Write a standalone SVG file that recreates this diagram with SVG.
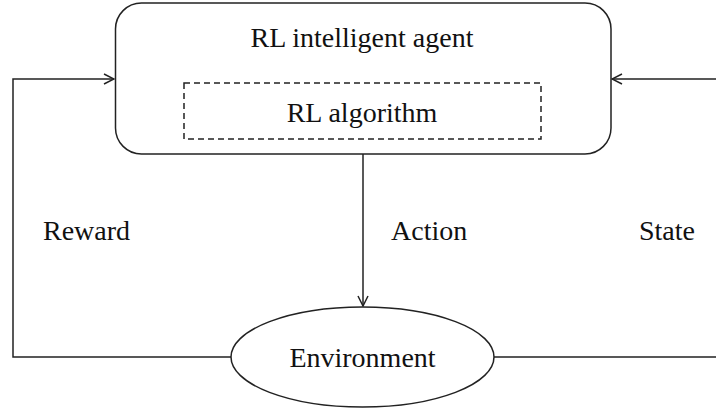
<svg xmlns="http://www.w3.org/2000/svg" width="716" height="409" viewBox="0 0 716 409">
<style>
.t{font-family:"Liberation Serif","Times New Roman",serif;font-size:28px;fill:#111;}
.s{fill:none;stroke:#222;stroke-width:1.5;}
</style>
<defs>
<marker id="ah" viewBox="0 0 12 12" refX="11" refY="6" markerWidth="12" markerHeight="12" markerUnits="userSpaceOnUse" orient="auto">
<path d="M1,1 L11,6 L1,11" fill="none" stroke="#222" stroke-width="1.5"/>
</marker>
</defs>
<rect width="716" height="409" fill="#fff"/>
<g id="agent">
<rect class="s" x="115.5" y="3" width="495.5" height="151" rx="26" ry="26"/>
<text class="t" x="362" y="47" text-anchor="middle">RL intelligent agent</text>
</g>
<g id="algorithm">
<rect class="s" x="184" y="83" width="357" height="56" stroke-dasharray="6,4"/>
<text class="t" x="362" y="122" text-anchor="middle">RL algorithm</text>
</g>
<g id="environment">
<ellipse class="s" cx="362.5" cy="357" rx="131.5" ry="50"/>
<text class="t" x="362.5" y="367" text-anchor="middle">Environment</text>
</g>
<g id="connectors">
<path class="s" d="M231,357 H13 V79 H114" marker-end="url(#ah)"/>
<path class="s" d="M363,154 V306" marker-end="url(#ah)"/>
<path class="s" d="M494,357 H717 M717,79 H612" marker-end="url(#ah)"/>
<text class="t" x="43" y="240">Reward</text>
<text class="t" x="391" y="240">Action</text>
<text class="t" x="639" y="240">State</text>
</g>
</svg>
